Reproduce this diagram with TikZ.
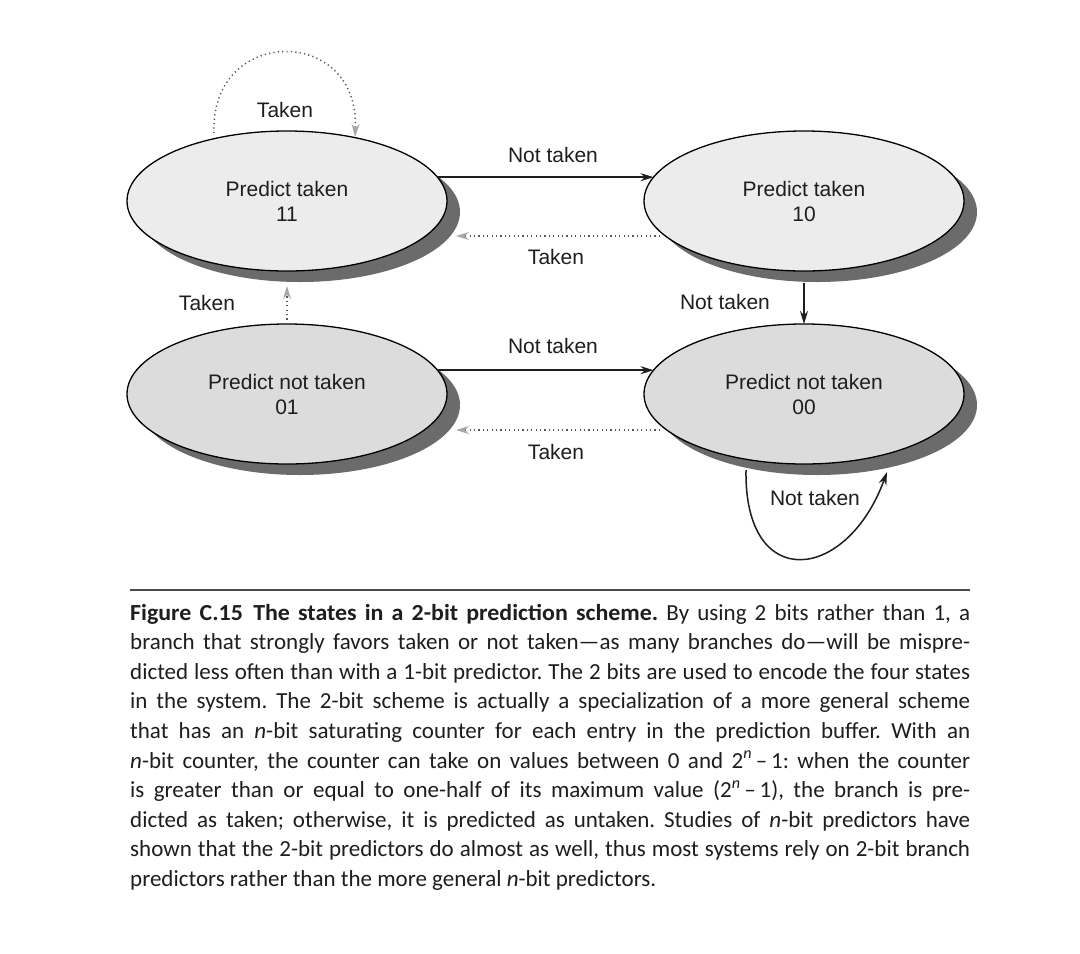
\documentclass[tikz,border=0pt]{standalone}
\usepackage{fontspec}
\setmainfont{Liberation Sans}
\newfontfamily\capfont[BoldFeatures={FakeStretch=1.04}]{Carlito}
\usetikzlibrary{shapes.geometric,arrows.meta,shadows}
\definecolor{topfill}{HTML}{ECECEC}
\definecolor{botfill}{HTML}{DCDCDC}
\definecolor{shade}{HTML}{6B6B6B}
\definecolor{dotgray}{HTML}{555555}
\definecolor{tipgray}{HTML}{A8A8A8}
\definecolor{ink}{HTML}{1E1E1E}
\definecolor{rulegray}{HTML}{4A4A4A}
\newcommand\lblfont{\fontsize{21}{25}\selectfont}
\newcommand\capsize{\capfont\fontsize{23}{29.6}\selectfont\frenchspacing}
\newcommand\capline[1]{\makebox[840pt][s]{\spaceskip=0.24em plus 1em minus 0.12em\xspaceskip=\spaceskip #1}}
\tikzset{
  statebox/.style={ellipse, draw=black, line width=1.3pt, minimum width=320pt,
    minimum height=140pt, inner sep=0pt, outer sep=0pt, align=center,
    font=\lblfont, text=ink,
    drop shadow={shadow xshift=13pt, shadow yshift=-11pt, fill=shade, opacity=1}},
  lab/.style={font=\lblfont, text=ink, inner sep=0pt},
  solidarr/.style={draw=ink, line width=1.5pt, -{Stealth[length=13pt,width=8pt]}},
  dotarr/.style={draw=dotgray, line width=1.5pt, dash pattern=on 1.2pt off 3.2pt,
    -{Stealth[length=13pt,width=8pt,color=tipgray]}},
}
\begin{document}
\begin{tikzpicture}[x=1pt,y=-1pt]
\useasboundingbox[fill=white] (0,0) rectangle (1080,954);

% states
\node[statebox, fill=topfill] (s11) at (287,201) {Predict taken\\11};
\node[statebox, fill=topfill] (s10) at (804,201) {Predict taken\\10};
\node[statebox, fill=botfill] (s01) at (287,394) {Predict not taken\\01};
\node[statebox, fill=botfill] (s00) at (804,394) {Predict not taken\\00};

% transitions
\draw[dotarr] ([shift={(-73,-68)}]s11.center) .. controls +(-4,-108) and +(5,-112) .. ([shift={(68,-64)}]s11.center);
\draw[solidarr] (s11.9) -- (s10.171);
\draw[dotarr] ([shift={(-144,35)}]s10.center) -- ([shift={(169,35)}]s11.center);
\draw[solidarr] ([yshift=-12pt]s10.south) -- (s00.north);
\draw[dotarr] (s01.north) -- ([yshift=-15pt]s11.south);
\draw[solidarr] (s01.9) -- (s00.171);
\draw[dotarr] ([shift={(-144,36)}]s00.center) -- ([shift={(169,36)}]s01.center);
\draw[solidarr] ([shift={(-58,76)}]s00.center) .. controls +(-2,124) and +(-40,110) .. ([shift={(83,78)}]s00.center);

% labels
\node[lab] (l1) at (285,110) {Taken};
\node[lab] (l2) at (553,155) {Not taken};
\node[lab] (l3) at (556,257) {Taken};
\node[lab] (l4) at (207,303) {Taken};
\node[lab] (l5) at (725,302) {Not taken};
\node[lab] (l6) at (553,346) {Not taken};
\node[lab] (l7) at (556,452) {Taken};
\node[lab] (l8) at (815,498) {Not taken};

% caption rule
\coordinate (r1) at (130,590);
\coordinate (r2) at (970,590);
\draw[rulegray, line width=1.6pt] (r1) -- (r2);

% caption
\node[anchor=base west, inner sep=0pt, font=\capsize, text=ink] (cap) at (130,620) {%
\begin{minipage}[t]{840pt}\parindent=0pt
\capline{\textbf{Figure C.15\hspace{0.45em}The states in a 2-bit prediction scheme.} By using 2 bits rather than 1, a}\\
\capline{branch that strongly favors taken or not taken—as many branches do—will be mispre-}\\
\capline{dicted less often than with a 1-bit predictor. The 2 bits are used to encode the four states}\\
\capline{in the system. The 2-bit scheme is actually a specialization of a more general scheme}\\
\capline{that has an \textit{n}-bit saturating counter for each entry in the prediction buffer. With an}\\
\capline{\textit{n}-bit counter, the counter can take on values between 0 and 2\textsuperscript{\textit{n}}\,–\,1: when the counter}\\
\capline{is greater than or equal to one-half of its maximum value (2\textsuperscript{\textit{n}}\,–\,1), the branch is pre-}\\
\capline{dicted as taken; otherwise, it is predicted as untaken. Studies of \textit{n}-bit predictors have}\\
\capline{shown that the 2-bit predictors do almost as well, thus most systems rely on 2-bit branch}\\
predictors rather than the more general \textit{n}-bit predictors.
\end{minipage}};
\end{tikzpicture}
\end{document}
